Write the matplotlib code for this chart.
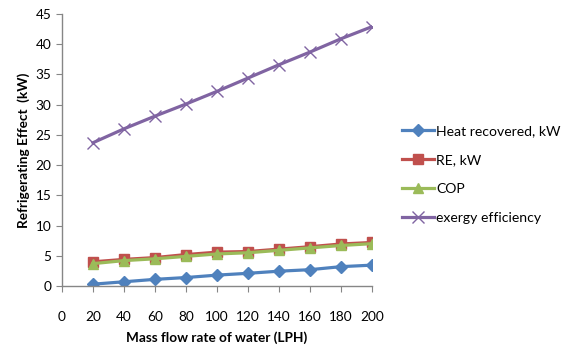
import matplotlib.pyplot as plt

plt.rcParams['font.family'] = ['Lato', 'DejaVu Sans']

# mass flow rate (LPH)
flow = [20, 40, 60, 80, 100, 120, 140, 160, 180, 200]

heat_recovered = [0.3, 0.7, 1.1, 1.4, 1.8, 2.1, 2.45, 2.7, 3.2, 3.45]
re_kw = [4.0, 4.4, 4.7, 5.2, 5.6, 5.7, 6.1, 6.5, 6.95, 7.2]
cop = [3.7, 4.2, 4.5, 4.9, 5.3, 5.5, 5.9, 6.3, 6.7, 7.0]
exergy = [23.7, 26.0, 28.1, 30.1, 32.2, 34.4, 36.6, 38.7, 40.9, 42.9]

labels = ['Heat recovered, kW', 'RE, kW', 'COP', 'exergy efficiency']

fig = plt.figure(figsize=(5.71, 3.47), dpi=100)
ax = fig.add_axes([0.1086, 0.1758, 0.543, 0.784])

ax.plot(flow, heat_recovered, color='#4F81BD', lw=2.3, marker='D', ms=6.5, label=labels[0])
ax.plot(flow, re_kw, color='#C0504D', lw=2.3, marker='s', ms=7, label=labels[1])
ax.plot(flow, cop, color='#9BBB59', lw=2.3, marker='^', ms=7.5, label=labels[2])
ax.plot(flow, exergy, color='#8064A2', lw=2.3, marker='x', ms=8, mew=1.0, label=labels[3])

ax.set_xlim(0, 200)
ax.set_ylim(0, 45)
ax.set_xticks(range(0, 201, 20))
ax.set_yticks(range(0, 46, 5))

for side in ['top', 'right']:
    ax.spines[side].set_visible(False)
for side in ['left', 'bottom']:
    ax.spines[side].set_color('#868686')
    ax.spines[side].set_linewidth(1.0)
ax.tick_params(axis='both', colors='#868686', length=4, labelsize=9.8, labelcolor='black')
ax.tick_params(axis='x', pad=14)

ax.set_xlabel('Mass flow rate of water (LPH)', fontsize=9.8, fontweight='bold', labelpad=6)
ax.set_ylabel('Refrigerating Effect  (kW)', fontsize=9.8, fontweight='bold', labelpad=4)

ax.legend(loc='center left', bbox_to_anchor=(1.055, 0.41), frameon=False, fontsize=10.1,
          handlelength=2.3, labelspacing=1.2, handletextpad=0.15)

fig.savefig('out.png', dpi=100)
